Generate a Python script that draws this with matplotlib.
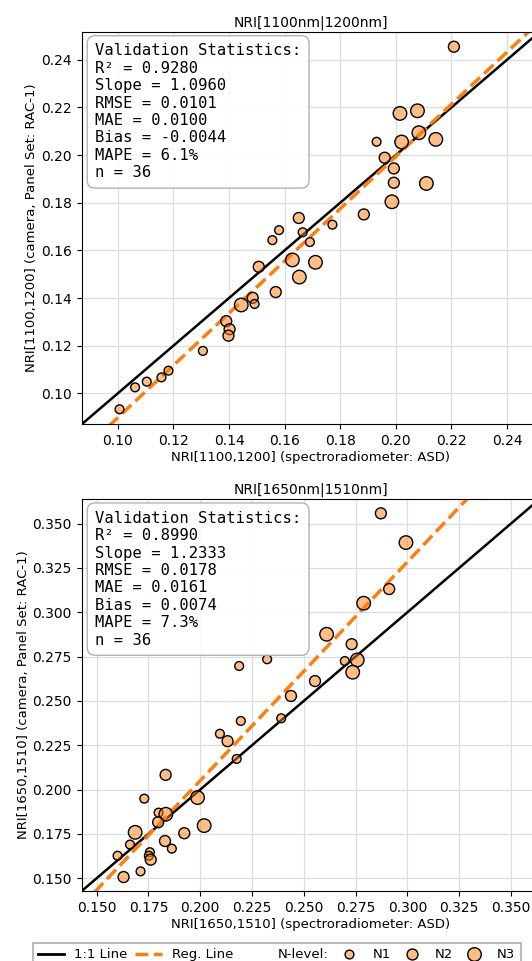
import numpy as np
import matplotlib.pyplot as plt
from matplotlib.lines import Line2D

# ---- data ----
# panel 1: NRI[1100nm|1200nm]
asd_1 = [0.2209, 0.2015, 0.2078, 0.2083, 0.2021, 0.1931, 0.2144, 0.1960, 0.1993,
         0.1993, 0.2110, 0.1986, 0.1885, 0.1651, 0.1580, 0.1556, 0.1665, 0.1772,
         0.1691, 0.1628, 0.1711, 0.1653, 0.1507, 0.1568, 0.1485, 0.1492, 0.1444,
         0.1390, 0.1402, 0.1398, 0.1306, 0.1182, 0.1157, 0.1104, 0.1062, 0.1006]
cam_1 = [0.2455, 0.2175, 0.2186, 0.2094, 0.2055, 0.2056, 0.2066, 0.1989, 0.1944,
         0.1884, 0.1881, 0.1804, 0.1751, 0.1736, 0.1685, 0.1643, 0.1676, 0.1708,
         0.1635, 0.1560, 0.1550, 0.1488, 0.1531, 0.1425, 0.1401, 0.1375, 0.1371,
         0.1303, 0.1269, 0.1242, 0.1178, 0.1095, 0.1067, 0.1049, 0.1025, 0.0933]
nlev_1 = [2, 3, 3, 3, 3, 1, 3, 2, 2,
          2, 3, 3, 2, 2, 1, 1, 1, 1,
          1, 3, 3, 3, 2, 2, 2, 1, 3,
          2, 2, 2, 1, 1, 1, 1, 1, 1]

# panel 2: NRI[1650nm|1510nm]
asd_2 = [0.2872, 0.2993, 0.2912, 0.2789, 0.2610, 0.2731, 0.2698, 0.2758, 0.2736,
         0.2323, 0.2188, 0.2554, 0.2438, 0.2391, 0.2196, 0.2095, 0.2132, 0.2176,
         0.1833, 0.1730, 0.1987, 0.1799, 0.1834, 0.1797, 0.2019, 0.1686, 0.1923,
         0.1661, 0.1830, 0.1863, 0.1601, 0.1757, 0.1752, 0.1761, 0.1712, 0.1630]
cam_2 = [0.3558, 0.3393, 0.3131, 0.3051, 0.2876, 0.2820, 0.2725, 0.2731, 0.2662,
         0.2735, 0.2697, 0.2612, 0.2528, 0.2402, 0.2387, 0.2315, 0.2273, 0.2173,
         0.2083, 0.1949, 0.1955, 0.1870, 0.1861, 0.1816, 0.1797, 0.1759, 0.1754,
         0.1690, 0.1710, 0.1667, 0.1627, 0.1647, 0.1627, 0.1605, 0.1539, 0.1507]
nlev_2 = [2, 3, 2, 3, 3, 2, 1, 3, 3,
          1, 1, 2, 2, 1, 1, 1, 2, 1,
          2, 1, 3, 1, 3, 2, 3, 3, 2,
          1, 2, 1, 1, 1, 1, 2, 1, 2]

stats_1 = ["Validation Statistics:", "R² = 0.9280", "Slope = 1.0960", "RMSE = 0.0101",
           "MAE = 0.0100", "Bias = -0.0044", "MAPE = 6.1%", "n = 36"]
stats_2 = ["Validation Statistics:", "R² = 0.8990", "Slope = 1.2333", "RMSE = 0.0178",
           "MAE = 0.0161", "Bias = 0.0074", "MAPE = 7.3%", "n = 36"]

reg_1 = (1.0960, -0.0198)
reg_2 = (1.2333, -0.0416)

ticks_2 = [0.150, 0.175, 0.200, 0.225, 0.250, 0.275, 0.300, 0.325, 0.350]

face = (1.0, 0.498, 0.055, 0.5)
size_map = {1: 40, 2: 62, 3: 95}


def panel(ax, asd, cam, nlev, reg, stats, lims, title, xlab, ylab):
    ax.grid(True, color='#dddddd', linewidth=0.9)
    ax.set_axisbelow(True)
    ax.plot(lims, lims, color='black', linewidth=1.8, zorder=2)
    xs = np.array(lims)
    ax.plot(xs, reg[0] * xs + reg[1], color='#ff7f0e', linestyle='--',
            linewidth=2.5, zorder=2)
    sizes = [size_map[n] for n in nlev]
    ax.scatter(asd, cam, s=sizes, facecolor=face, edgecolor='black',
               linewidth=1.0, zorder=3)
    ax.set_xlim(lims)
    ax.set_ylim(lims)
    ax.set_title(title, fontsize=10, pad=4)
    ax.set_xlabel(xlab, fontsize=9.5, labelpad=2)
    ax.set_ylabel(ylab, fontsize=9.5, labelpad=2)
    ax.tick_params(labelsize=10)
    ax.text(0.029, 0.97, "\n".join(stats), transform=ax.transAxes,
            family='DejaVu Sans Mono', fontsize=11.2, va='top', ha='left',
            linespacing=1.2,
            bbox=dict(boxstyle='round,pad=0.5', facecolor='white',
                      edgecolor='#aaaaaa', alpha=0.9))


fig = plt.figure(figsize=(5.32, 9.61), dpi=100)
ax1 = fig.add_axes([0.1536, 0.5585, 0.861, 0.4085])
ax2 = fig.add_axes([0.1536, 0.0728, 0.861, 0.408])

panel(ax1, asd_1, cam_1, nlev_1, reg_1, stats_1, [0.087, 0.2518],
      "NRI[1100nm|1200nm]", "NRI[1100,1200] (spectroradiometer: ASD)",
      "NRI[1100,1200] (camera, Panel Set: RAC-1)")
panel(ax2, asd_2, cam_2, nlev_2, reg_2, stats_2, [0.1428, 0.3639],
      "NRI[1650nm|1510nm]", "NRI[1650,1510] (spectroradiometer: ASD)",
      "NRI[1650,1510] (camera, Panel Set: RAC-1)")
ax2.set_xticks(ticks_2)
ax2.set_yticks(ticks_2)
ax2.set_xticklabels([f"{t:.3f}" for t in ticks_2])
ax2.set_yticklabels([f"{t:.3f}" for t in ticks_2])
ax2.set_xlim(0.1428, 0.3639)
ax2.set_ylim(0.1428, 0.3639)

handles = [
    Line2D([], [], color='black', linewidth=2),
    Line2D([], [], color='#ff7f0e', linestyle='--', linewidth=2.5),
    Line2D([], [], linestyle='none'),
    Line2D([], [], linestyle='none', marker='o', markersize=np.sqrt(size_map[1]),
           markerfacecolor=face, markeredgecolor='black'),
    Line2D([], [], linestyle='none', marker='o', markersize=np.sqrt(size_map[2]),
           markerfacecolor=face, markeredgecolor='black'),
    Line2D([], [], linestyle='none', marker='o', markersize=np.sqrt(size_map[3]),
           markerfacecolor=face, markeredgecolor='black'),
]
labels = ["1:1 Line", "Reg. Line", "N-level:", "N1", "N2", "N3"]
leg = fig.legend(handles, labels, loc='upper center', ncol=6,
                 bbox_to_anchor=(0.52, 0.0187), fontsize=9.5,
                 frameon=True, fancybox=False, edgecolor='#999999',
                 columnspacing=0.6, handlelength=2.0, handletextpad=0.75,
                 borderpad=0.4, borderaxespad=0)
leg.get_frame().set_linewidth(1.2)

fig.savefig("out.png", dpi=100)
